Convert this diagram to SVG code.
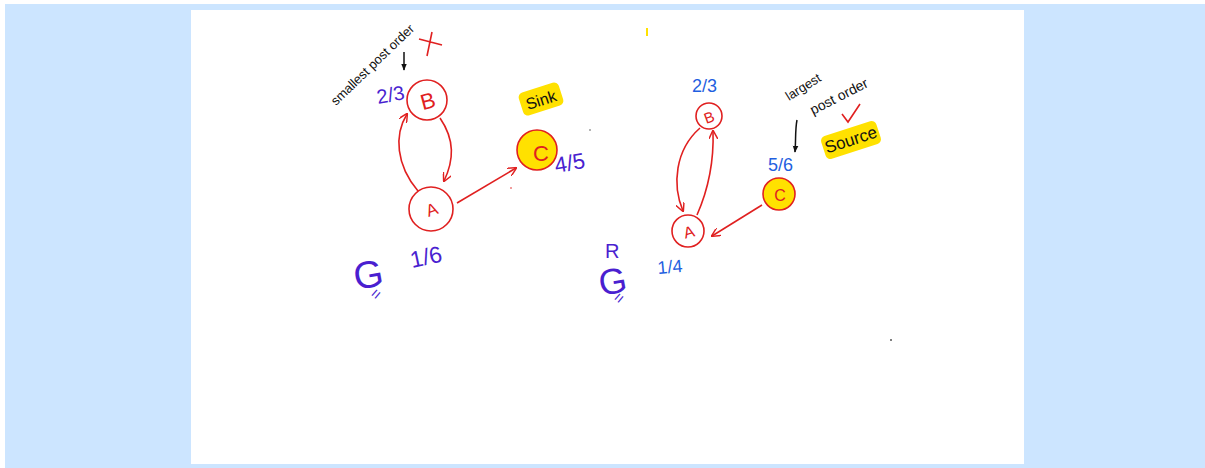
<svg xmlns="http://www.w3.org/2000/svg" width="1205" height="468" viewBox="0 0 1205 468">
<defs>
<style>
.hand{font-family:"Liberation Sans",Arial,sans-serif;}
.node{fill:none;stroke:#e02020;stroke-width:1.6;}
.cnode{fill:#ffe100;stroke:#e02020;stroke-width:1.6;}
.lbl{fill:#e02020;text-anchor:middle;dominant-baseline:central;}
.edge{fill:none;stroke:#e02020;stroke-width:1.6;}
.purple{fill:#4a1fd0;}
.blue{fill:#1f5fe0;}
.blk{fill:#111;}
.hl{fill:#ffe100;}
</style>
<marker id="ah" viewBox="0 0 10 10" refX="9" refY="5" markerWidth="9" markerHeight="9" orient="auto" markerUnits="userSpaceOnUse">
<path d="M0,0 L10,5 L0,10" fill="none" stroke="#e02020" stroke-width="1.6"/>
</marker>
<marker id="bh" viewBox="0 0 10 10" refX="9" refY="5" markerWidth="7" markerHeight="7" orient="auto" markerUnits="userSpaceOnUse">
<path d="M0,1 L10,5 L0,9 Z" fill="#111"/>
</marker>
</defs>
<rect x="5" y="4" width="1200" height="464" fill="#cce5ff"/>
<rect x="191" y="10" width="833" height="454" fill="#ffffff"/>

<g id="connectors">
<path class="edge" d="M418,191 C396,165 394,135 407,114" marker-end="url(#ah)"/>
<path class="edge" d="M440,118 C455,140 454,160 444,181" marker-end="url(#ah)"/>
<path class="edge" d="M457,203 L516,168" marker-end="url(#ah)"/>
<path class="edge" d="M697,215 C708,190 714,160 713,131" marker-end="url(#ah)"/>
<path class="edge" d="M700,128 C675,150 672,185 683,211" marker-end="url(#ah)"/>
<path class="edge" d="M762,205 L712,236" marker-end="url(#ah)"/>
<path d="M404,52 L404,70" stroke="#111" stroke-width="1.5" fill="none" marker-end="url(#bh)"/>
<path d="M797,120 C795,130 796,140 795,152" stroke="#111" stroke-width="1.5" fill="none" marker-end="url(#bh)"/>
</g>

<g id="nodeB1">
<circle class="node" cx="427" cy="100" r="20"/>
<text class="hand lbl" x="428" y="101" font-size="22" transform="rotate(-15 428 101)">B</text>
</g>
<g id="nodeA1">
<circle class="node" cx="431" cy="209" r="22"/>
<text class="hand lbl" x="432" y="210" font-size="17" transform="rotate(-20 432 210)">A</text>
</g>
<g id="nodeC1">
<circle class="cnode" cx="537" cy="150" r="20"/>
<text class="hand lbl" x="541" y="153" font-size="22">C</text>
</g>
<g id="nodeB2">
<circle class="node" cx="709" cy="116" r="13"/>
<text class="hand lbl" x="709" y="117" font-size="15" transform="rotate(-20 709 117)">B</text>
</g>
<g id="nodeA2">
<circle class="node" cx="688" cy="231" r="16"/>
<text class="hand lbl" x="689" y="232" font-size="16" transform="rotate(-15 689 232)">A</text>
</g>
<g id="nodeC2">
<circle class="cnode" cx="779" cy="194" r="16"/>
<text class="hand lbl" x="780" y="195" font-size="16">C</text>
</g>

<g id="annotations" class="hand">
<text class="purple" x="378" y="104" font-size="20" transform="rotate(-10 378 104)">2/3</text>
<text class="purple" x="412" y="268" font-size="23" transform="rotate(-12 412 268)">1/6</text>
<text class="purple" x="556" y="173" font-size="22" transform="rotate(-10 556 173)">4/5</text>
<text class="purple" x="356" y="290" font-size="38" transform="rotate(-10 356 290)">G</text>
<text class="purple" x="377" y="301" font-size="16" transform="rotate(-50 377 301)">=</text>

<rect class="hl" x="520" y="87" width="42" height="24" rx="5" transform="rotate(-18 541 99)"/>
<text class="blk" x="541" y="100" font-size="16" text-anchor="middle" dominant-baseline="central" transform="rotate(-18 541 100)">Sink</text>

<text class="blk" x="336" y="106" font-size="13" transform="rotate(-44 336 106)">smallest  post order</text>
<path d="M419,39 L442,45 M432,32 L427,56" stroke="#e02020" stroke-width="1.6" fill="none"/>

<text class="blue" x="692" y="92" font-size="18">2/3</text>
<text class="blue" x="768" y="171" font-size="18">5/6</text>
<text class="blue" x="658" y="274" font-size="18" transform="rotate(-5 658 274)">1/4</text>
<text class="purple" x="601" y="296" font-size="36" transform="rotate(-10 601 296)">G</text>
<text class="purple" x="605" y="258" font-size="20">R</text>
<text class="purple" x="620" y="305" font-size="16" transform="rotate(-50 620 305)">=</text>

<text class="blk" x="789" y="101" font-size="13" transform="rotate(-32 789 101)">largest</text>
<text class="blk" x="813" y="115" font-size="14" transform="rotate(-27 813 115)">post order</text>
<path d="M842,114 L848,122 L860,104" stroke="#e02020" stroke-width="1.6" fill="none"/>
<rect class="hl" x="822" y="128" width="58" height="24" rx="5" transform="rotate(-18 851 140)"/>
<text class="blk" x="851" y="140" font-size="17" text-anchor="middle" dominant-baseline="central" transform="rotate(-18 851 140)">Source</text>

<rect x="646" y="28" width="2" height="8" fill="#ffe100"/>
<circle cx="590" cy="130" r="0.8" fill="#555"/>
<circle cx="891" cy="340" r="1" fill="#555"/>
<circle cx="511" cy="188" r="0.8" fill="#e02020"/>
</g>
</svg>
